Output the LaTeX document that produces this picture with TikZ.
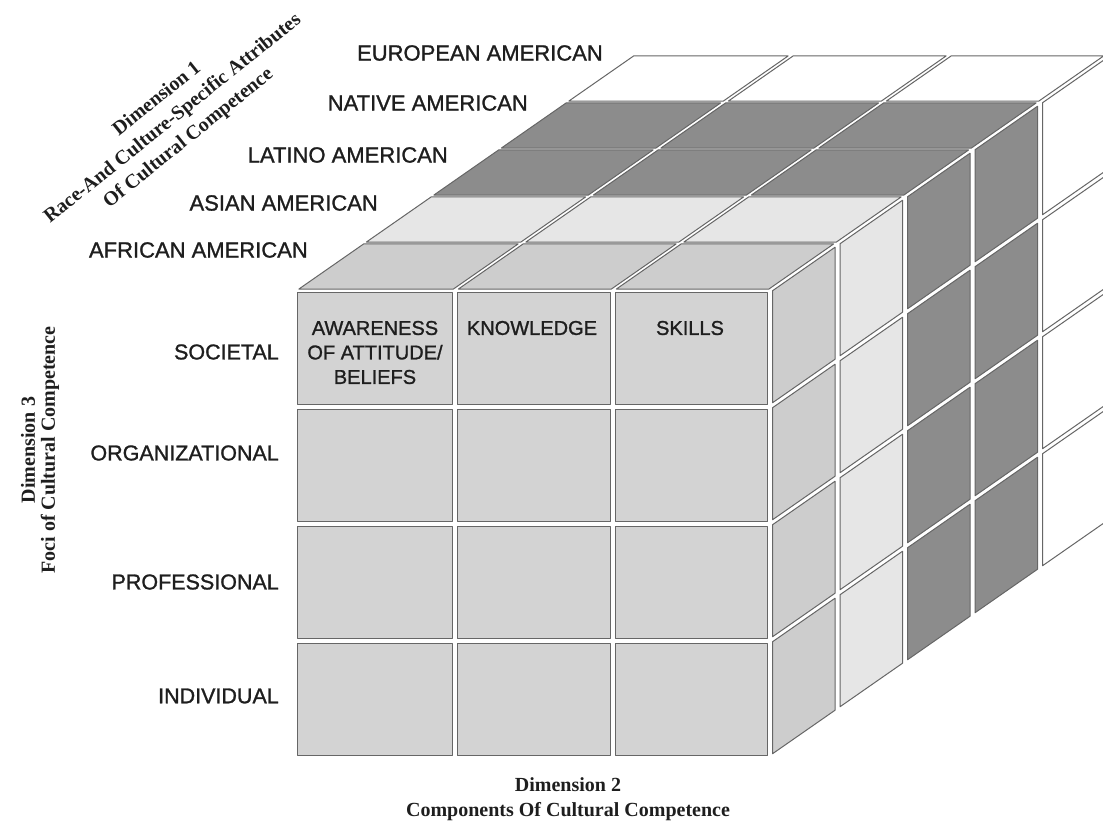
\documentclass[tikz,border=0pt]{standalone}
\usepackage{fontspec}
\setmainfont{Liberation Serif}
\setsansfont{Liberation Sans}
\newfontfamily\labfont[FakeBold=1.2]{Liberation Sans}
\definecolor{frontgray}{HTML}{D3D3D3}
\definecolor{midgray}{HTML}{CDCDCD}
\definecolor{paleGray}{HTML}{E6E6E6}
\definecolor{deepGray}{HTML}{8C8C8C}
\definecolor{edgegray}{HTML}{666666}
\definecolor{textgray}{HTML}{1E1E1E}
\begin{document}
\begin{tikzpicture}[x=1pt,y=-1pt,
  cell/.style={draw=edgegray, line width=1pt, line join=round},
  laylab/.style={font=\labfont\fontsize{22}{26}\selectfont, text=textgray, inner sep=0pt, anchor=east},
  rowlab/.style={font=\labfont\fontsize{21.5}{26}\selectfont, text=textgray, inner sep=0pt, anchor=east},
  celllab/.style={font=\labfont\fontsize{20}{24.5}\selectfont, text=textgray, inner sep=0pt, align=center},
  dimlab/.style={font=\rmfamily\bfseries\fontsize{20}{25}\selectfont, text=textgray, inner sep=0pt, align=center}]
\useasboundingbox (0,0) rectangle (1103,824);
\begin{scope}
\clip (0,0) rectangle (1103,824);
% front face
\foreach \i in {0,...,3} {
  \foreach \j in {0,1,2} {
    \pgfmathsetmacro\xa{{295,454.5,612.5,770}[\j]+2.5}
    \pgfmathsetmacro\xb{{295,454.5,612.5,770}[\j+1]-2.5}
    \pgfmathsetmacro\ya{290+117*\i+2.5}
    \pgfmathsetmacro\yb{290+117*(\i+1)-2.5}
    \draw[cell, fill=frontgray] (\xa,\ya) rectangle (\xb,\yb);
  }
}
% top face
\foreach \k/\c in {0/midgray,1/paleGray,2/deepGray,3/deepGray,4/white} {
  \foreach \j in {0,1,2} {
    \pgfmathsetmacro\xa{{295,454.5,612.5,770}[\j]+2.5}
    \pgfmathsetmacro\xb{{295,454.5,612.5,770}[\j+1]-2.5}
    \pgfmathsetmacro\ta{\k+0.02}
    \pgfmathsetmacro\tb{\k+0.98}
    \draw[cell, fill=\c] (\xa+67.5*\ta, 290-47*\ta) -- (\xb+67.5*\ta, 290-47*\ta)
      -- (\xb+67.5*\tb, 290-47*\tb) -- (\xa+67.5*\tb, 290-47*\tb) -- cycle;
  }
}
% right face
\foreach \k/\c in {0/midgray,1/paleGray,2/deepGray,3/deepGray,4/white} {
  \foreach \i in {0,...,3} {
    \pgfmathsetmacro\ya{290+117*\i+2.5}
    \pgfmathsetmacro\yb{290+117*(\i+1)-2.5}
    \pgfmathsetmacro\ta{\k+0.037}
    \pgfmathsetmacro\tb{\k+0.963}
    \draw[cell, fill=\c] (770+67.5*\ta, \ya-47*\ta) -- (770+67.5*\tb, \ya-47*\tb)
      -- (770+67.5*\tb, \yb-47*\tb) -- (770+67.5*\ta, \yb-47*\ta) -- cycle;
  }
}
\end{scope}
% layer labels
\node[laylab] (euro) at (603,53) {EUROPEAN AMERICAN};
\node[laylab] (native) at (528,103) {NATIVE AMERICAN};
\node[laylab] (latino) at (448,155) {LATINO AMERICAN};
\node[laylab] (asian) at (378,203) {ASIAN AMERICAN};
\node[laylab] (african) at (308,250) {AFRICAN AMERICAN};
% row labels
\node[rowlab] (soc) at (279,352) {SOCIETAL};
\node[rowlab] (org) at (279,453) {ORGANIZATIONAL};
\node[rowlab] (prof) at (279,582) {PROFESSIONAL};
\node[rowlab] (indiv) at (279,696) {INDIVIDUAL};
% cell labels
\node[celllab] (aware) at (375,352.5) {AWARENESS\\OF ATTITUDE/\\BELIEFS};
\node[celllab] (know) at (532,328) {KNOWLEDGE};
\node[celllab] (skills) at (690,328) {SKILLS};
% dimension labels
\node[dimlab, rotate=38.7] (dim1) at (173,119) {Dimension 1\\Race-And Culture-Specific Attributes\\Of Cultural Competence};
\node[dimlab] (dim2) at (568,799) {Dimension 2\\Components Of Cultural Competence};
\node[dimlab, rotate=90, font=\rmfamily\bfseries\fontsize{20}{20}\selectfont] (dim3) at (40,450) {Dimension 3\\Foci of Cultural Competence};
\end{tikzpicture}
\end{document}
